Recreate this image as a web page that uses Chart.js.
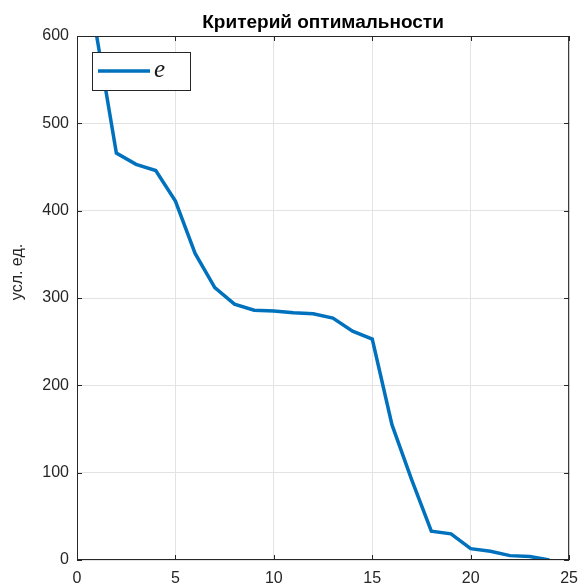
<!DOCTYPE html>
<html>
<head>
<meta charset="utf-8">
<script src="https://cdn.jsdelivr.net/npm/chart.js@4.4.1/dist/chart.umd.min.js"></script>
<style>
  html, body { margin: 0; padding: 0; background: #ffffff; }
  #wrap { width: 587px; height: 585px; }
</style>
</head>
<body>
<div id="wrap"><canvas id="optChart" width="587" height="585"></canvas></div>
<script>
// iteration number and criterion value
const iterations = [1, 2, 3, 4, 5, 6, 7, 8, 9, 10, 11, 12, 13, 14, 15, 16, 17, 18, 19, 20, 21, 22, 23, 24];
const criterion = [600, 466, 453, 446, 411, 351, 312, 293, 286, 285, 283, 282, 277, 262, 253, 155, 92, 33, 30, 13, 10, 5, 4, 0];
const xTicks = [0, 5, 10, 15, 20, 25];
const yTicks = [0, 100, 200, 300, 400, 500, 600];

const seriesName = 'e';
const titleText = 'Критерий оптимальности';
const yLabel = 'усл. ед.';

const axisColor = '#262626';
const gridColor = '#e3e3e3';
const lineColor = '#0072BD';

// title, ylabel, box with inward ticks and the in-plot legend
const matlabLook = {
    id: 'matlabLook',
    afterDatasetsDraw(chart) {
        const ctx = chart.ctx;
        const a = chart.chartArea;
        const xs = chart.scales.x;
        const ys = chart.scales.y;
        ctx.save();

        // box
        ctx.strokeStyle = axisColor;
        ctx.lineWidth = 1;
        ctx.strokeRect(a.left + 0.5, a.top + 0.5, a.right - a.left - 1, a.bottom - a.top - 1);

        // inward tick marks on all four sides
        const tl = 5;
        ctx.beginPath();
        xTicks.forEach(v => {
            const px = Math.round(xs.getPixelForValue(v)) + 0.5;
            ctx.moveTo(px, a.bottom); ctx.lineTo(px, a.bottom - tl);
            ctx.moveTo(px, a.top); ctx.lineTo(px, a.top + tl);
        });
        yTicks.forEach(v => {
            const py = Math.round(ys.getPixelForValue(v)) + 0.5;
            ctx.moveTo(a.left, py); ctx.lineTo(a.left + tl, py);
            ctx.moveTo(a.right, py); ctx.lineTo(a.right - tl, py);
        });
        ctx.stroke();

        // legend
        const lx = a.left + 15, ly = a.top + 16, lw = 98, lh = 38;
        ctx.fillStyle = '#ffffff';
        ctx.fillRect(lx, ly, lw, lh);
        ctx.strokeStyle = axisColor;
        ctx.strokeRect(lx + 0.5, ly + 0.5, lw, lh);
        ctx.strokeStyle = lineColor;
        ctx.lineWidth = 3.5;
        ctx.beginPath();
        ctx.moveTo(lx + 6, ly + 19);
        ctx.lineTo(lx + 58, ly + 19);
        ctx.stroke();
        ctx.fillStyle = '#1a1a1a';
        ctx.font = 'italic 25px "Liberation Serif", "DejaVu Serif", serif';
        ctx.textAlign = 'left';
        ctx.textBaseline = 'middle';
        ctx.fillText(seriesName, lx + 62, ly + 18);

        // title
        ctx.fillStyle = '#000000';
        ctx.font = 'bold 19px "Liberation Sans", Arial, sans-serif';
        ctx.textAlign = 'center';
        ctx.textBaseline = 'alphabetic';
        ctx.fillText(titleText, (a.left + a.right) / 2, 28);

        // y label
        ctx.translate(18, 272);
        ctx.rotate(-Math.PI / 2);
        ctx.fillStyle = axisColor;
        ctx.font = '16px "Liberation Sans", Arial, sans-serif';
        ctx.textBaseline = 'middle';
        ctx.fillText(yLabel, 0, 0);
        ctx.restore();
    }
};

const ctx = document.querySelector('#optChart').getContext('2d');
const chart = new Chart(ctx, {
    type: 'line',
    data: {
        datasets: [{
            label: seriesName,
            data: iterations.map((it, i) => ({ x: it, y: criterion[i] })),
            borderColor: lineColor,
            borderWidth: 3.5,
            pointRadius: 0,
            fill: false,
            tension: 0,
            clip: 0
        }]
    },
    options: {
        responsive: false,
        animation: false,
        layout: {
            padding: { top: 36, right: 10, left: 0, bottom: 0 }
        },
        scales: {
            x: {
                type: 'linear',
                min: 0,
                max: 25,
                afterFit: scale => { scale.height = 25; },
                afterBuildTicks: scale => { scale.ticks = xTicks.map(v => ({ value: v })); },
                grid: { color: gridColor, drawTicks: false },
                border: { display: false },
                ticks: {
                    color: axisColor,
                    padding: 9,
                    maxRotation: 0,
                    font: { family: '"Liberation Sans", Arial, sans-serif', size: 16 }
                }
            },
            y: {
                min: 0,
                max: 600,
                afterFit: scale => { scale.width = 77; },
                afterBuildTicks: scale => { scale.ticks = yTicks.map(v => ({ value: v })); },
                grid: { color: gridColor, drawTicks: false },
                border: { display: false },
                ticks: {
                    color: axisColor,
                    padding: 8,
                    font: { family: '"Liberation Sans", Arial, sans-serif', size: 16 }
                }
            }
        },
        plugins: {
            legend: { display: false },
            title: { display: false },
            tooltip: { enabled: false }
        }
    },
    plugins: [matlabLook]
});
</script>
</body>
</html>
